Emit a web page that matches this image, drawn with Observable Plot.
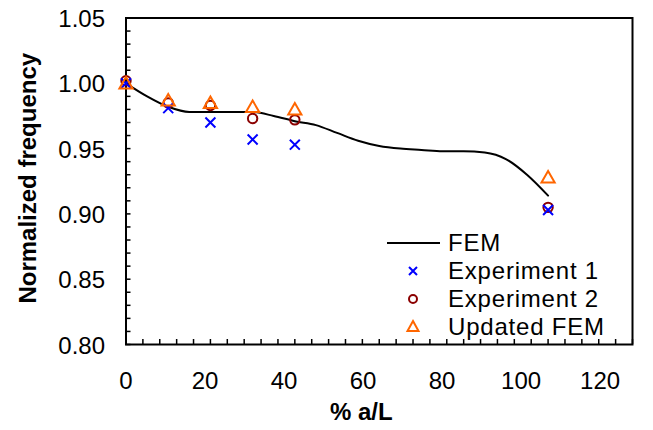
<!DOCTYPE html>
<html>
<head>
<meta charset="utf-8">
<script src="https://cdn.jsdelivr.net/npm/d3@7"></script>
<script src="https://cdn.jsdelivr.net/npm/@observablehq/plot@0.6"></script>
<style>
  html, body { margin: 0; padding: 0; background: #fff; }
  #wrap { position: relative; width: 653px; height: 430px; font-family: "Liberation Sans", Arial, sans-serif; }
  #legend { position: absolute; left: 383px; top: 229px; font-size: 24px; color: #000; line-height: 28px; letter-spacing: 0.8px; }
  #legend .row { display: flex; align-items: center; height: 28px; white-space: nowrap; }
  #legend svg { width: 60px; height: 28px; margin-right: 5px; }
</style>
</head>
<body>
<div id="wrap">
  <div id="chart"></div>
  <div id="legend"></div>
</div>
<script>
// FEM curve
const femX = [0, 5, 10, 15, 20, 25, 30, 35, 40, 45, 50, 55, 60, 65, 70, 75, 80, 85, 90, 95, 100];
const femY = [1.000, 0.990, 0.982, 0.978, 0.978, 0.978, 0.978, 0.975, 0.971, 0.968, 0.962, 0.956, 0.952, 0.950, 0.949, 0.948, 0.948, 0.947, 0.942, 0.930, 0.914];

// Experiment 1
const exp1X = [0, 10, 20, 30, 40, 100];
const exp1Y = [1.000, 0.981, 0.970, 0.957, 0.953, 0.903];

// Experiment 2
const exp2X = [0, 10, 20, 30, 40, 100];
const exp2Y = [1.002, 0.985, 0.983, 0.973, 0.972, 0.905];

// Updated FEM
const updX = [0, 10, 20, 30, 40, 100];
const updY = [0.999, 0.986, 0.984, 0.981, 0.979, 0.927];

const xTicks = [0, 20, 40, 60, 80, 100, 120];
const yTicks = [0.80, 0.85, 0.90, 0.95, 1.00, 1.05];
const xMinor = d3.range(0, 121, 4);
const yMinor = d3.range(80, 106, 1).map(v => v / 100);

const seriesNames = ["FEM", "Experiment 1", "Experiment 2", "Updated FEM"];
const xTitle = "% a/L";
const yTitle = "Normalized frequency";

const zip = (xs, ys) => xs.map((x, i) => ({x, y: ys[i]}));
const fem = zip(femX, femY);
const e1 = zip(exp1X, exp1Y);
const e2 = zip(exp2X, exp2Y);
const up = zip(updX, updY);

const font = "Liberation Sans, Arial, sans-serif";
// the reference's x tick labels sit slightly compressed relative to the tick marks
const labelK = 0.936;

const plot = Plot.plot({
  width: 653,
  height: 430,
  marginLeft: 125.5,
  marginRight: 21,
  marginTop: 17.5,
  marginBottom: 86,
  style: { fontFamily: font, background: "#fff", color: "#000" },
  x: { domain: [0, 120] },
  y: { domain: [0.8, 1.05] },
  marks: [
    Plot.axisX(xTicks.map(v => v * labelK), { tickSize: 0, tickPadding: 27, fontSize: 24, label: null, tickFormat: d => String(Math.round(d / labelK)) }),
    Plot.axisX(xMinor, { tickSize: -5, text: null, label: null, strokeWidth: 1.5 }),
    Plot.axisY(yTicks, { tickSize: 0, tickPadding: 21, fontSize: 24, label: null, dy: 1.5, tickFormat: d3.format(".2f") }),
    Plot.axisY(yMinor, { tickSize: -5, text: null, label: null, strokeWidth: 1.5 }),
    Plot.frame({ stroke: "#000", strokeWidth: 2 }),
    Plot.line(fem, { x: "x", y: "y", stroke: "#000", strokeWidth: 2, curve: "monotone-x" }),
    Plot.dot(e2, { x: "x", y: "y", symbol: "circle", r: 4.7, stroke: "#8B0000", strokeWidth: 2, fill: "none" }),
    Plot.dot(e1, { x: "x", y: "y", symbol: "times", r: 4.6, stroke: "#0000FF", strokeWidth: 2 }),
    Plot.dot(up, { x: "x", y: "y", symbol: "triangle", r: 4.9, stroke: "#FF6600", strokeWidth: 2, fill: "none" }),
    Plot.text([xTitle], { frameAnchor: "bottom", textAnchor: "middle", lineAnchor: "middle", dx: -18, dy: 68, fontSize: 24, fontWeight: "bold", text: d => d }),
    Plot.text([yTitle], { frameAnchor: "left", textAnchor: "middle", lineAnchor: "middle", dx: -98, dy: -3, rotate: -90, fontSize: 24, fontWeight: "bold", text: d => d })
  ]
});
document.getElementById("chart").appendChild(plot);

// Legend (HTML overlay inside plot area)
const legendSymbols = [
  `<line x1="4" y1="14" x2="57" y2="14" stroke="#000" stroke-width="2"/>`,
  `<path d="M26,10L34,18M34,10L26,18" stroke="#0000FF" stroke-width="2" fill="none"/>`,
  `<circle cx="30" cy="14" r="4" stroke="#8B0000" stroke-width="2" fill="none"/>`,
  `<path d="M30,8L35.5,18L24.5,18Z" stroke="#FF6600" stroke-width="2" fill="none"/>`
];
const leg = document.getElementById("legend");
seriesNames.forEach((name, i) => {
  const row = document.createElement("div");
  row.className = "row";
  row.innerHTML = `<svg viewBox="0 0 60 28">${legendSymbols[i]}</svg><span>${name}</span>`;
  leg.appendChild(row);
});
</script>
</body>
</html>
